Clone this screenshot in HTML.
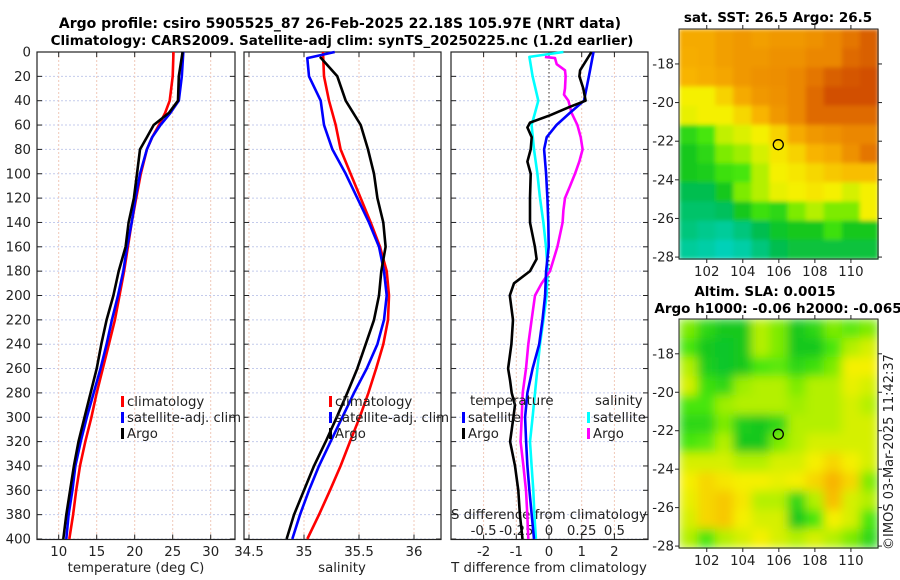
<!DOCTYPE html>
<html><head><meta charset="utf-8"><style>
html,body{margin:0;padding:0;background:#fff;}
svg{display:block;font-family:"DejaVu Sans","Liberation Sans",sans-serif;}
</style></head><body>
<svg id="fig" width="900" height="580" viewBox="0 0 900 580" xmlns="http://www.w3.org/2000/svg">
<defs>
<filter id="blur4" x="0" y="0" width="1" height="1"><feGaussianBlur stdDeviation="5" edgeMode="duplicate"/></filter>
<filter id="blur1" x="0" y="0" width="1" height="1"><feGaussianBlur stdDeviation="2" edgeMode="duplicate"/></filter>
</defs>
<text x="340" y="28" text-anchor="middle" font-size="14" font-weight="bold">Argo profile: csiro 5905525_87 26-Feb-2025 22.18S 105.97E (NRT data)</text>
<text x="342" y="45" text-anchor="middle" font-size="13.5" font-weight="bold">Climatology: CARS2009. Satellite-adj clim: synTS_20250225.nc (1.2d earlier)</text>
<g id="g"></g>
<text transform="translate(893,452) rotate(-90)" text-anchor="middle" font-size="13" fill="#222">©IMOS 03-Mar-2025 11:42:37</text>
</svg>
<script>
// ---- data ----
const depthsClim = [0,20,40,50,60,70,80,100,120,140,160,180,200,220,240,260,280,300,320,340,360,380,400];
const tempClim   = [25.1,25.0,24.6,24.0,23.2,22.3,21.6,20.8,20.2,19.6,19.1,18.6,18.0,17.4,16.6,15.8,15.0,14.3,13.5,12.8,12.3,11.9,11.4];
const tempSat    = [26.4,26.2,25.8,24.7,23.4,22.3,21.6,20.7,20.1,19.6,19.0,18.5,17.8,17.0,16.3,15.5,14.6,13.7,12.9,12.2,11.8,11.3,11.0];
const tempArgo   = [26.3,25.8,25.7,24.5,22.5,21.6,20.7,20.3,19.9,19.2,18.8,17.9,17.2,16.3,15.6,15.0,14.2,13.4,12.6,12.0,11.5,11.0,10.6];
const depthsS    = [0,20,40,60,80,100,120,140,160,180,200,220,240,260,280,300,320,340,360,380,400];
const salClim    = [35.173,35.182,35.227,35.288,35.333,35.424,35.515,35.606,35.691,35.752,35.773,35.764,35.721,35.655,35.585,35.506,35.418,35.333,35.236,35.136,35.030];
const depthsSsat = [0,5,20,40,60,80,100,120,140,160,180,200,220,240,260,280,300,320,340,360,380,400];
const salSat     = [35.279,35.030,35.045,35.152,35.182,35.258,35.379,35.485,35.591,35.682,35.727,35.752,35.727,35.667,35.570,35.455,35.348,35.242,35.136,35.045,34.964,34.894];
const depthsSargo= [4,20,40,60,80,100,120,140,160,180,200,220,240,260,280,300,320,340,360,380,400];
const salArgo    = [35.145,35.303,35.379,35.515,35.582,35.636,35.667,35.721,35.742,35.703,35.682,35.636,35.561,35.485,35.394,35.297,35.197,35.091,35.000,34.909,34.842];
const dTsatDepth = [0,20,40,50,60,70,80,100,120,140,160,180,200,220,240,260,280,300,320,340,360,380,400];
const dTsat      = [1.36,1.22,1.07,0.64,0.23,-0.07,-0.15,-0.09,-0.05,-0.02,-0.01,-0.09,-0.12,-0.2,-0.3,-0.5,-0.66,-0.73,-0.70,-0.66,-0.60,-0.53,-0.46];
const dTargoDepth= [0,15,20,30,40,45,52,58,62,70,80,90,100,120,140,160,170,180,190,200,220,240,260,270,280,290,300,320,340,360,380,400];
const dTargo     = [1.30,0.95,0.93,1.05,1.12,0.64,0.03,-0.58,-0.66,-0.53,-0.56,-0.66,-0.56,-0.58,-0.58,-0.43,-0.38,-0.58,-1.07,-1.2,-1.1,-1.15,-1.25,-1.19,-1.14,-1.04,-1.09,-1.19,-1.04,-0.94,-0.89,-0.81];
const dSsatDepth = [0,4,7,20,40,50,60,80,100,120,140,160,180,200,220,240,260,280,300,320,340,360,380,400];
const dSsat      = [0.110,-0.150,-0.145,-0.125,-0.082,-0.107,-0.133,-0.115,-0.089,-0.069,-0.043,-0.023,-0.010,-0.018,-0.043,-0.069,-0.089,-0.107,-0.125,-0.145,-0.133,-0.120,-0.112,-0.100];
const dSargoDepth= [4,5,10,15,20,30,35,40,50,60,70,80,90,100,110,120,130,140,160,180,190,200,220,240,260,280,300,320,340,360,380,400];
const dSargo     = [-0.031,0.046,0.059,0.122,0.127,0.122,0.115,0.148,0.173,0.217,0.242,0.257,0.232,0.199,0.161,0.122,0.110,0.104,0.064,0.008,-0.056,-0.107,-0.133,-0.158,-0.176,-0.201,-0.209,-0.217,-0.196,-0.176,-0.166,-0.158];
const depthTicks = [0,20,40,60,80,100,120,140,160,180,200,220,240,260,280,300,320,340,360,380,400];
const tempTicks = [10,15,20,25,30];
const salTicks = [34.5,35,35.5,36];
const salTickLabels = ["34.5","35","35.5","36"];
const dTTicks = [-2,-1,0,1,2];
const dSTicks = [-0.5,-0.25,0,0.25,0.5];
const latTicks = [-18,-20,-22,-24,-26,-28];
const lonTicks = [102,104,106,108,110];
const argoLon = 105.97, argoLat = -22.18;
const sstGrid = [
[0.75,0.75,0.78,0.8,0.78,0.8,0.8,0.82,0.85,0.88,0.92],
[0.74,0.75,0.78,0.8,0.8,0.82,0.82,0.85,0.85,0.9,0.92],
[0.72,0.74,0.76,0.8,0.82,0.83,0.85,0.88,0.92,0.94,0.95],
[0.6,0.6,0.66,0.75,0.8,0.82,0.85,0.9,0.95,0.95,0.95],
[0.58,0.6,0.6,0.65,0.72,0.8,0.85,0.9,0.9,0.9,0.9],
[0.35,0.4,0.52,0.56,0.6,0.66,0.75,0.8,0.82,0.85,0.85],
[0.3,0.35,0.45,0.48,0.55,0.62,0.66,0.72,0.75,0.82,0.88],
[0.3,0.32,0.38,0.4,0.5,0.6,0.62,0.65,0.68,0.7,0.7],
[0.22,0.22,0.3,0.45,0.5,0.58,0.6,0.62,0.6,0.55,0.6],
[0.18,0.18,0.2,0.3,0.38,0.35,0.45,0.5,0.45,0.45,0.6],
[0.15,0.12,0.1,0.15,0.22,0.28,0.3,0.3,0.38,0.3,0.3],
[0.1,0.08,0.05,0.08,0.15,0.22,0.25,0.25,0.25,0.25,0.25]];
const slaGrid = [
[0.45,0.35,0.3,0.3,0.5,0.45,0.3,0.35,0.45,0.42,0.45],
[0.4,0.3,0.28,0.3,0.5,0.45,0.3,0.3,0.4,0.5,0.55],
[0.5,0.32,0.28,0.3,0.4,0.42,0.35,0.38,0.45,0.6,0.6],
[0.55,0.38,0.35,0.48,0.5,0.5,0.45,0.5,0.5,0.58,0.55],
[0.4,0.4,0.48,0.5,0.5,0.5,0.48,0.5,0.5,0.55,0.5],
[0.35,0.35,0.45,0.32,0.3,0.35,0.5,0.5,0.5,0.55,0.55],
[0.4,0.42,0.5,0.3,0.3,0.45,0.5,0.55,0.55,0.55,0.55],
[0.55,0.55,0.55,0.5,0.5,0.55,0.55,0.6,0.65,0.6,0.55],
[0.6,0.65,0.62,0.6,0.6,0.58,0.6,0.65,0.72,0.65,0.45],
[0.58,0.65,0.68,0.62,0.5,0.5,0.35,0.5,0.7,0.55,0.5],
[0.55,0.65,0.68,0.6,0.55,0.55,0.3,0.4,0.6,0.55,0.4],
[0.5,0.4,0.5,0.55,0.6,0.55,0.5,0.55,0.5,0.45,0.35]];

// ---- axes ----
const NS="http://www.w3.org/2000/svg";
const G=document.getElementById('g');
function mk(tag,attrs,parent){const e=document.createElementNS(NS,tag);for(const k in attrs)e.setAttribute(k,attrs[k]);(parent||G).appendChild(e);return e;}
const yD = d => 52 + d*1.2175;
const xT = t => 58.7 + (t-10)*7.6;
const xS = s => 304 + (s-35)*110;
const xDT = v => 549 + v*32.7;
const xDS = v => 549 + v*130.8;
const panels=[{l:37,r:235,name:'temperature'},{l:244,r:441,name:'salinity'},{l:451,r:648,name:'difference'}];
const TOP=52,BOT=539.5;
const FS=13.3;

panels.forEach((p,i)=>{
  const grp=mk('g',{});
  
  
  depthTicks.forEach(d=>{
    const y=yD(d);
    const gl=mk('line',{x1:p.l,x2:p.r,y1:y,y2:y,stroke:'#c4cbec','stroke-width':1,'stroke-dasharray':'2,2'},grp);
    
    
    mk('line',{x1:p.l,x2:p.l+5,y1:y,y2:y,stroke:'#222'},grp);
    mk('line',{x1:p.r,x2:p.r-5,y1:y,y2:y,stroke:'#222'},grp);
    if(i===0){
      const t=mk('text',{x:31,y:y+4.5,'text-anchor':'end','font-size':FS,fill:'#222'});
      t.textContent=d;
      
      
    }
  });
  let ticks, fx;
  if(i===0){ticks=tempTicks;fx=xT;} else if(i===1){ticks=salTicks;fx=xS;} else {ticks=dTTicks;fx=xDT;}
  ticks.forEach((v,k)=>{
    const x=fx(v);
    const gl=mk('line',{x1:x,x2:x,y1:TOP,y2:BOT,stroke:'#f0c8b8','stroke-width':1,'stroke-dasharray':'2,2'},grp);
    
    
    mk('line',{x1:x,x2:x,y1:BOT,y2:BOT-5,stroke:'#222'},grp);
    mk('line',{x1:x,x2:x,y1:TOP,y2:TOP+5,stroke:'#222'},grp);
    const t=mk('text',{x:x,y:556,'text-anchor':'middle','font-size':FS,fill:'#222'});
    t.textContent= i===1?salTickLabels[k]:v;
    
    
  });
  const b=mk('rect',{x:p.l,y:TOP,width:p.r-p.l,height:BOT-TOP,fill:'none',stroke:'#222','stroke-width':1.2},grp);
  
  
});
[['temperature (deg C)',136,'temperature-axis-title'],['salinity',342,'salinity-axis-title'],['T difference from climatology',549,'t-difference-axis-title']].forEach(a=>{
  const t=mk('text',{x:a[1],y:572,'text-anchor':'middle','font-size':FS,fill:'#222'});
  t.textContent=a[0];
  
  
});
const zl=mk('line',{x1:xDT(0),x2:xDT(0),y1:TOP,y2:BOT,stroke:'#333','stroke-width':1,'stroke-dasharray':'1.5,2.5'});


const st=mk('text',{x:549,y:519,'text-anchor':'middle','font-size':FS,fill:'#222'});
st.textContent='S difference from climatology';


dSTicks.forEach(v=>{
  const t=mk('text',{x:xDS(v),y:535,'text-anchor':'middle','font-size':FS,fill:'#222'});
  t.textContent=v;
  
  
});

function line(xs,ds,fx,color,name){
  const pts=xs.map((v,i)=>fx(v).toFixed(1)+','+yD(ds[i]).toFixed(1)).join(' ');
  const e=mk('polyline',{points:pts,fill:'none',stroke:color,'stroke-width':2.6,'stroke-linejoin':'round'});
  
  
}
line(tempClim,depthsClim,xT,'#ff0000','temperature-climatology-line');
line(tempSat,depthsClim,xT,'#0000ff','temperature-satellite-line');
line(tempArgo,depthsClim,xT,'#000','temperature-argo-line');
line(salClim,depthsS,xS,'#ff0000','salinity-climatology-line');
line(salSat,depthsSsat,xS,'#0000ff','salinity-satellite-line');
line(salArgo,depthsSargo,xS,'#000','salinity-argo-line');
line(dSsat,dSsatDepth,xDS,'#00ffff','s-diff-satellite-line');
line(dSargo,dSargoDepth,xDS,'#ff00ff','s-diff-argo-line');
line(dTsat,dTsatDepth,xDT,'#0000ff','t-diff-satellite-line');
line(dTargo,dTargoDepth,xDT,'#000','t-diff-argo-line');

function legend(x,y,color,label,name){
  const g=mk('g',{});
  
  
  if(color){mk('rect',{x:x,y:y-10,width:3,height:11,fill:color},g);}
  const t=mk('text',{x:x+6,y:y,'font-size':FS,fill:'#222'},g);
  t.textContent=label;
}
legend(121,406,'#ff0000','climatology','legend-climatology');
legend(121,422,'#0000ff','satellite-adj. clim','legend-satellite');
legend(121,438,'#000','Argo','legend-argo');
legend(329,406,'#ff0000','climatology','legend-climatology-2');
legend(329,422,'#0000ff','satellite-adj. clim','legend-satellite-2');
legend(329,438,'#000','Argo','legend-argo-2');
legend(464,405,null,'temperature','legend-temperature-heading');
legend(462,422,'#0000ff','satellite','legend-t-satellite');
legend(462,438,'#000','Argo','legend-t-argo');
legend(589,405,null,'salinity','legend-salinity-heading');
legend(587,422,'#00ffff','satellite','legend-s-satellite');
legend(587,438,'#ff00ff','Argo','legend-s-argo');

// ---- maps ----
const cstops=[[0,[0,215,215]],[0.22,[0,190,80]],[0.3,[20,200,30]],[0.4,[70,230,10]],[0.5,[180,240,0]],[0.6,[245,240,0]],[0.72,[248,180,0]],[0.85,[235,135,0]],[0.95,[210,80,0]],[1,[175,20,0]]];
function cmap(v){
  for(let i=1;i<cstops.length;i++){if(v<=cstops[i][0]){const a=cstops[i-1],b=cstops[i];const f=(v-a[0])/(b[0]-a[0]);const c=a[1].map((q,k)=>Math.round(q+(b[1][k]-q)*f));return 'rgb('+c+')';}}
  return 'rgb(175,20,0)';
}
const LON0=100.46, LAT0=-16.19, LAT1=-28.1;
function drawMap(grid,top,bot,titles,name,filt){
  const L=679,R=878;
  const xL=lon=>L+(lon-LON0)*18.02;
  const yL=lat=>top+(LAT0-lat)*((bot-top)/(LAT0-LAT1));
  const g=mk('g',{});
  
  
  const cells=mk('g',{filter:'url(#'+filt+')'},g);
  const rows=grid.length, cols=grid[0].length;
  const cw=(R-L)/cols, ch=(bot-top)/rows;
  grid.forEach((row,r)=>row.forEach((v,c)=>{
    const cell=mk('rect',{x:(L+c*cw).toFixed(2),y:(top+r*ch).toFixed(2),width:(cw+0.6).toFixed(2),height:(ch+0.6).toFixed(2),fill:cmap(v)},cells);
    
    
  }));
  mk('rect',{x:L,y:top,width:R-L,height:bot-top,fill:'none',stroke:'#222','stroke-width':1},g);
  latTicks.forEach(lat=>{
    const y=yL(lat);
    mk('line',{x1:L-4,x2:L,y1:y,y2:y,stroke:'#222'},g);
    mk('line',{x1:R,x2:R+4,y1:y,y2:y,stroke:'#222'},g);
    const t=mk('text',{x:L-5,y:y+4.5,'text-anchor':'end','font-size':FS,fill:'#222'},g);
    t.textContent=lat;
    
    
  });
  lonTicks.forEach(lon=>{
    const x=xL(lon);
    mk('line',{x1:x,x2:x,y1:bot,y2:bot+4,stroke:'#222'},g);
    mk('line',{x1:x,x2:x,y1:top-4,y2:top,stroke:'#222'},g);
    const t=mk('text',{x:x,y:bot+17,'text-anchor':'middle','font-size':FS,fill:'#222'},g);
    t.textContent=lon;
    
    
  });
  const m=mk('circle',{cx:xL(argoLon),cy:yL(argoLat),r:5,fill:'none',stroke:'#000','stroke-width':1.3},g);
  
  
  titles.forEach(tt=>{
    const t=mk('text',{x:tt[1],y:tt[2],'text-anchor':'middle','font-size':13.5,'font-weight':'bold'},g);
    t.textContent=tt[0];
    
    
  });
}
drawMap(sstGrid,29,259,[['sat. SST: 26.5 Argo: 26.5',778,22]],'sst-map','blur1');
drawMap(slaGrid,319,548,[['Altim. SLA: 0.0015',765,296],['Argo h1000: -0.06 h2000: -0.065',778,313]],'sla-map','blur4');
</script>
</body></html>
